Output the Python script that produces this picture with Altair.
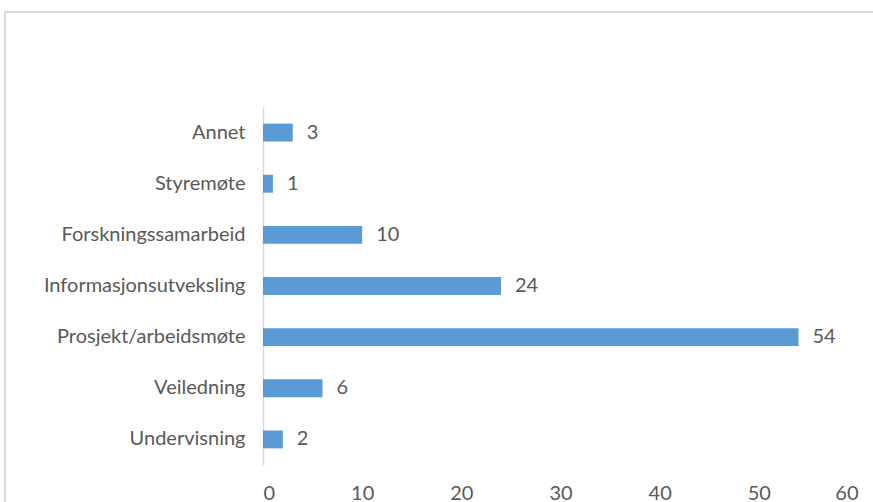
import altair as alt
import pandas as pd

categories = ["Annet", "Styremøte", "Forskningssamarbeid", "Informasjonsutveksling",
              "Prosjekt/arbeidsmøte", "Veiledning", "Undervisning"]
values = [3, 1, 10, 24, 54, 6, 2]
x_ticks = [0, 10, 20, 30, 40, 50, 60]

df = pd.DataFrame({"kategori": categories, "antall": values})

FONT = "Lato"
FS = 20
TXT = "#595959"

base = alt.Chart(df).encode(
    y=alt.Y("kategori:N", sort=categories, title=None,
            scale=alt.Scale(paddingInner=0.65, paddingOuter=0.325),
            axis=alt.Axis(domainColor="#d9d9d9", domainWidth=1.5, ticks=False,
                          labelFont=FONT, labelFontSize=FS, labelColor=TXT,
                          labelPadding=18, labelLimit=400, grid=False)),
)

bars = base.mark_bar(color="#5b9bd5").encode(
    x=alt.X("antall:Q", title=None,
            scale=alt.Scale(domain=[0, 60], nice=False),
            axis=alt.Axis(values=x_ticks, domain=False, ticks=False, grid=False,
                          labelFont=FONT, labelFontSize=FS, labelColor=TXT,
                          labelPadding=18))
)

labels = base.mark_text(align="left", baseline="middle", dx=14, font=FONT,
                        fontSize=FS, color=TXT).encode(
    x="antall:Q", text="antall:Q"
)

frame = alt.Chart(df).mark_rect(fill=None, stroke="#d9d9d9", strokeWidth=1.5).encode(
    x=alt.value(-258), y=alt.value(-95), x2=alt.value(640), y2=alt.value(420)
)

chart = alt.layer(frame, bars, labels).properties(
    width=595, height=358,
    autosize=alt.AutoSizeParams(type="none"),
    padding={"left": 263, "top": 107, "right": 15, "bottom": 37},
).configure_view(stroke=None)

chart.save("out.html", embed_options={"renderer": "svg", "actions": False})
